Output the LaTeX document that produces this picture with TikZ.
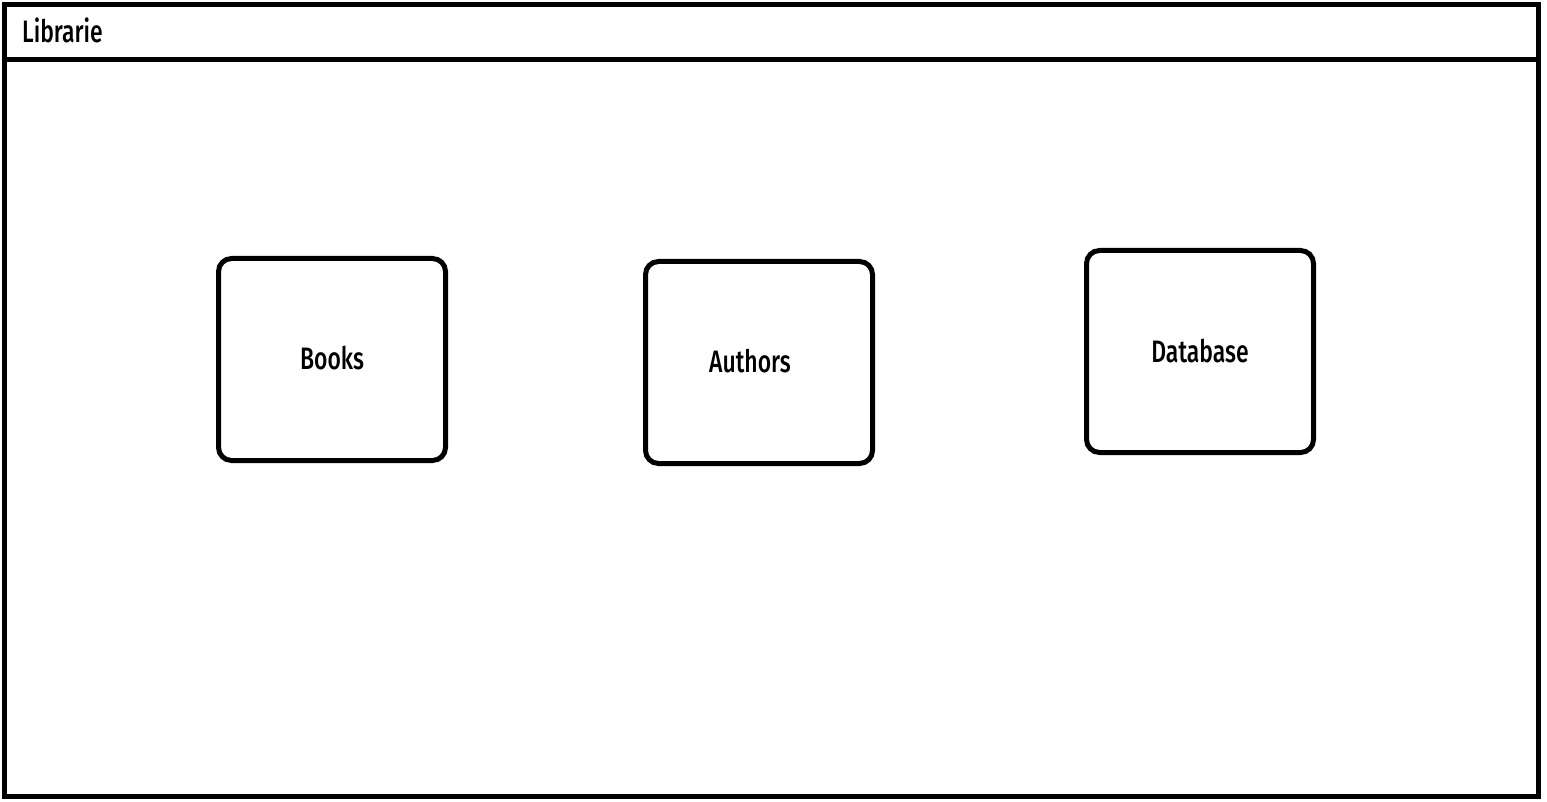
\documentclass[tikz,border=0pt]{standalone}
\usepackage{fontspec}
\setmainfont{Fira Sans}[FakeStretch=0.72, BoldFont={Fira Sans Medium}, BoldFeatures={FakeStretch=0.74}]
\tikzset{
  ramme/.style = {draw, line width=5pt, inner sep=0pt},
  boks/.style  = {draw, line width=5pt, rounded corners=13pt, inner sep=0pt,
                  minimum width=227pt, minimum height=202pt,
                  font=\fontsize{31}{36}\selectfont\bfseries},
  tittel/.style = {inner sep=0pt, anchor=base west, font=\fontsize{31}{36}\selectfont\bfseries}
}
\begin{document}
\begin{tikzpicture}[x=1pt, y=-1pt]
\useasboundingbox (0,0) rectangle (1547,802);
%% ramme
\node [ramme, minimum width=1534pt, minimum height=792pt] (vindu) at (771.5,400.5) {};
\coordinate (hv) at (5,59.5);
\coordinate (hh) at (1538,59.5);
\draw [line width=5pt] (hv) -- (hh);
\node [tittel] (navn) at (22,43) {Librarie};
%% bokser
\node [boks] (books)    at (332,359.5)  {\raisebox{3pt}{Books}};
\node [boks] (authors)  at (759,362.5)  {\hspace*{-18pt}\raisebox{3pt}{Authors}};
\node [boks] (database) at (1200,351.5) {Database};
\end{tikzpicture}
\end{document}
